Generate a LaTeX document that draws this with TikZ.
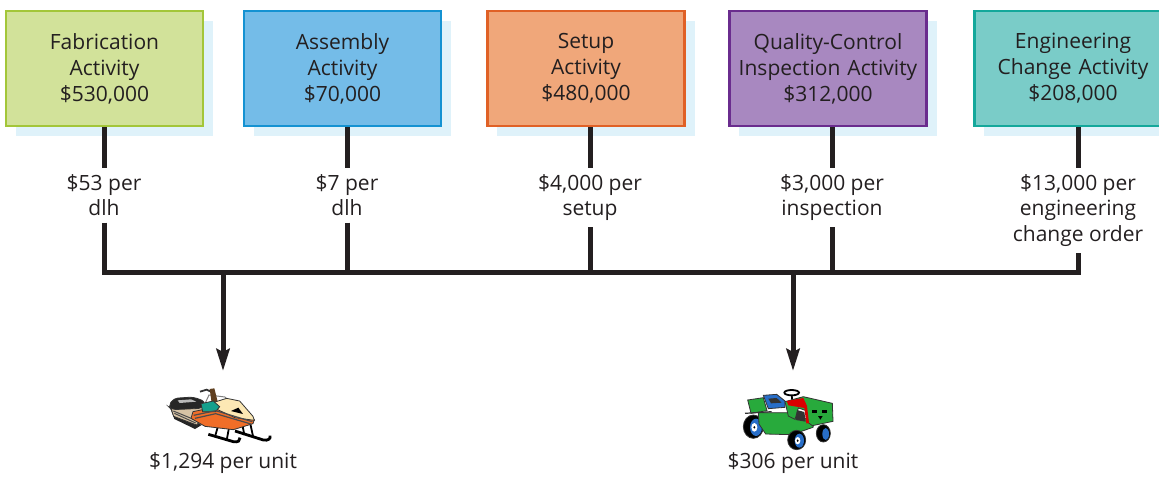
\documentclass[tikz,border=0pt]{standalone}
\usepackage{fontspec}
\setmainfont{Open Sans}
\usepackage{xcolor}
\usepackage{tikz}
\usetikzlibrary{arrows.meta, positioning, shadows}
\definecolor{inkDark}{RGB}{35,31,32}
\definecolor{shadowBlue}{RGB}{223,242,250}
\definecolor{fabFill}{RGB}{210,226,154}
\definecolor{fabLine}{RGB}{163,198,57}
\definecolor{asmFill}{RGB}{116,188,232}
\definecolor{asmLine}{RGB}{20,146,210}
\definecolor{setFill}{RGB}{240,167,122}
\definecolor{setLine}{RGB}{224,97,38}
\definecolor{qcFill}{RGB}{168,136,192}
\definecolor{qcLine}{RGB}{106,44,142}
\definecolor{engFill}{RGB}{122,204,200}
\definecolor{engLine}{RGB}{20,168,155}
\definecolor{sledOrange}{RGB}{240,110,40}
\definecolor{sledCream}{RGB}{252,232,180}
\definecolor{sledTeal}{RGB}{20,160,140}
\definecolor{sledTan}{RGB}{215,195,165}
\definecolor{mowGreen}{RGB}{40,170,60}
\definecolor{mowBlue}{RGB}{40,110,200}

\begin{document}
\begin{tikzpicture}[
    x=0.5pt, y=-0.5pt,
    activity/.style={rectangle, line width=1.3pt, text width=92pt,
        minimum width=95pt, minimum height=57.5pt, align=center,
        text=inkDark, font=\fontsize{10.5}{13}\selectfont,
        drop shadow={shadow xshift=5pt, shadow yshift=-5pt,
            opacity=1, fill=shadowBlue}},
    rate/.style={align=center, text=inkDark, inner sep=3pt,
        font=\fontsize{10.5}{12.8}\selectfont},
    cost/.style={text=inkDark, font=\fontsize{10.5}{13}\selectfont},
    bar/.style={line width=2.5pt, inkDark},
    arr/.style={-{Stealth[length=11pt, width=6.5pt, inset=1.5pt]},
        line width=2.5pt, inkDark},
    part/.style={draw=black!80, line width=0.4pt}
]
\useasboundingbox (0,0) rectangle (1159,476);
\clip (0,0) rectangle (1159,476);

\node[activity, fill=fabFill, draw=fabLine] (fab) at (104.5,68.5)
    {Fabrication\\Activity\\\$530,000};
\node[activity, fill=asmFill, draw=asmLine] (asm) at (342.5,68.5)
    {Assembly\\Activity\\\$70,000};
\node[activity, fill=setFill, draw=setLine] (set) at (586,68.5)
    {Setup\\Activity\\\$480,000};
\node[activity, fill=qcFill, draw=qcLine] (qc) at (828,68.5)
    {Quality-Control\\Inspection Activity\\\$312,000};
\node[activity, fill=engFill, draw=engLine] (eng) at (1073,68.5)
    {Engineering\\Change Activity\\\$208,000};

\node[rate, anchor=north] (fabRate) at (104,168) {\$53 per\\dlh};
\node[rate, anchor=north] (asmRate) at (347,168) {\$7 per\\dlh};
\node[rate, anchor=north] (setRate) at (590,168) {\$4,000 per\\setup};
\node[rate, anchor=north] (qcRate) at (832,168) {\$3,000 per\\inspection};
\node[rate, anchor=north] (engRate) at (1078,168)
    {\$13,000 per\\engineering\\change order};

\coordinate (bus) at (0,272);
\coordinate (sled) at (223,371);
\coordinate (mower) at (793,371);

\foreach \a/\r in {fab/fabRate, asm/asmRate, set/setRate, qc/qcRate, eng/engRate}
    \draw[bar] (\r |- \a.south) -- (\r.north);
\draw[bar] (fabRate.south) -- (fabRate |- bus) -- (engRate |- bus)
    -- (engRate.south);
\foreach \r in {asmRate, setRate, qcRate}
    \draw[bar] (\r.south) -- (\r |- bus);

\draw[arr] (sled |- bus) -- (sled);
\draw[arr] (mower |- bus) -- (mower);

\node[cost] (sledCost) at (223,463) {\$1,294 per unit};
\node[cost] (mowerCost) at (793,463) {\$306 per unit};

% snowmobile
\begin{scope}[shift={(155,375)}, scale=1/3]
    \draw[black, line width=1.4pt] (160,178) -- (235,200)
        .. controls (250,203) and (256,196) .. (255,188);
    \draw[black, line width=1.4pt] (240,168) -- (325,195)
        .. controls (340,198) and (348,190) .. (345,182);
    \draw[black, line width=0.9pt] (190,150) -- (180,185) (222,158) -- (215,196)
        (262,148) -- (268,180) (285,142) -- (295,188);
    \fill[black!85] (46,100) -- (58,132) -- (120,162) -- (140,150) -- (70,112) -- cycle;
    \filldraw[part, fill=sledTan] (45,92) -- (140,92) -- (152,115) -- (125,150)
        -- (56,124) -- cycle;
    \draw[black!70, line width=0.5pt] (55,108) -- (128,138) (58,115) -- (122,144);
    \filldraw[part, fill=black!85, rounded corners=2pt] (40,94) -- (56,70) -- (115,66)
        -- (152,80) -- (142,100) -- (50,104) -- cycle;
    \fill[gray!55] (68,76) -- (108,73) -- (124,80) -- (74,84) -- cycle;
    \draw[gray, line width=0.5pt] (150,86) -- (162,60) -- (210,66) -- (224,82);
    \draw[black!80, line width=0.9pt] (135,50) -- (155,44) -- (172,52);
    \fill[brown!50!black] (164,42) -- (178,40) -- (188,80) -- (170,84) -- cycle;
    \filldraw[part, fill=sledOrange] (114,110) -- (180,96) -- (235,118) -- (298,134)
        -- (294,146) -- (235,164) -- (150,154) -- (108,130) -- cycle;
    \filldraw[part, fill=sledCream] (170,84) -- (215,70) -- (254,78) -- (294,124)
        -- (298,136) -- (240,128) -- (188,104) -- cycle;
    \filldraw[part, fill=sledTeal] (138,86) -- (175,78) -- (194,95) -- (182,110)
        -- (143,110) -- cycle;
    \fill[black] (228,108) -- (250,98) -- (264,117) -- cycle;
    \draw[black!70, line width=0.6pt] (116,121) -- (182,107) -- (292,140);
    \draw[black!70, line width=0.6pt] (120,130) -- (182,116) -- (288,147);
\end{scope}

% riding mower
\begin{scope}[shift={(735,380)}, scale=1/3]
    \filldraw[part, fill=black] (265,160) ellipse (21 and 26);
    \fill[mowBlue] (272,162) ellipse (10 and 18);
    \filldraw[part, fill=black] (55,140) ellipse (30 and 35);
    \fill[mowBlue] (63,142) ellipse (18 and 26);
    \fill[white] (58,142) ellipse (9 and 13);
    \fill[black] (58,142) ellipse (3 and 4);
    \filldraw[part, fill=mowGreen] (70,98) -- (160,98) -- (238,124) -- (234,142)
        -- (170,164) -- (92,162) -- (72,132) -- cycle;
    \filldraw[part, fill=mowGreen] (38,60) -- (85,53) -- (96,92) -- (48,100) -- cycle;
    \draw[black!80, line width=0.6pt] (30,100) -- (110,95);
    \filldraw[part, fill=mowBlue] (85,46) -- (125,43) -- (150,63) -- (150,82)
        -- (100,86) -- cycle;
    \fill[black!80] (100,56) -- (125,54) -- (140,68) -- (108,70) -- cycle;
    \draw[black, line width=0.9pt] (170,38) ellipse (22 and 8);
    \draw[black, line width=0.9pt] (170,46) -- (172,62);
    \filldraw[part, fill=mowGreen] (150,65) -- (205,50) -- (292,70) -- (294,124)
        -- (232,137) -- (220,128) -- (214,92) -- (190,84) -- (180,118)
        -- (160,108) -- cycle;
    \fill[black!80] (186,90) -- (208,96) -- (212,125) -- (182,120) -- cycle;
    \fill[red!85!black] (155,63) -- (205,54) -- (216,78) -- (222,130) -- (214,130)
        -- (208,84) -- (160,76) -- cycle;
    \fill[black] (230,91) rectangle (245,100);
    \fill[black] (260,91) rectangle (275,100);
    \fill[black] (249,108) -- (263,108) -- (256,119) -- cycle;
    \filldraw[part, fill=black] (185,180) ellipse (27 and 29);
    \fill[mowBlue] (193,182) ellipse (14 and 21);
    \fill[white] (188,182) ellipse (8 and 11);
    \fill[black] (188,182) ellipse (3 and 4);
\end{scope}
\end{tikzpicture}
\end{document}
